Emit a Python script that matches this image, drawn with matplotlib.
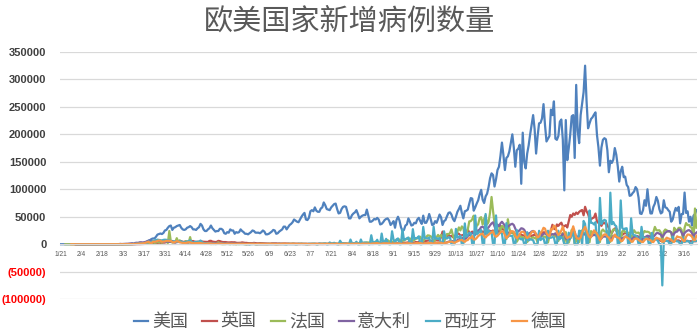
import matplotlib.pyplot as plt
import numpy as np
import pandas as pd

plt.rcParams['font.family'] = ['Noto Sans CJK SC', 'DejaVu Sans']

# daily new cases in thousands, one row per week (Tue..Mon) from 2020-01-21
# None = no cases reported yet
us = [
    0, 0, 0, 0, 0, 0, 0,
    0, 0, 0, 0, 0, 0, 0,
    0, 0, 0, 0, 0, 0, 0,
    0, 0, 0, 0, 0, 0, 0,
    0, 0, 0, 0, 0, 0, 0,
    0, 0, 0, 0, 0, 0, 0,
    0, 0, 0.1, 0.1, 0.1, 0.1, 0.2,
    0.3, 0.4, 0.5, 0.6, 0.8, 0.8, 1.7,
    2.5, 3.5, 4.8, 6.8, 7.5, 9.5, 10.5,
    10.5, 13.5, 17.5, 18.5, 19.5, 18.5, 20.5,
    25, 26, 30, 33, 34, 26, 30,
    31, 33, 34, 35, 30, 27, 26,
    27, 30, 31, 33, 31, 27, 27,
    26, 29, 31, 37, 34, 27, 24,
    24, 27, 29, 34, 29, 26, 23,
    24, 24, 28, 28, 26, 20, 19,
    22, 21, 27, 25, 25, 19, 22,
    21, 22, 27, 24, 22, 19, 19,
    18, 20, 22, 25, 24, 21, 21,
    21, 20, 22, 25, 23, 18, 18,
    19, 21, 23, 26, 25, 19, 20,
    23, 25, 27, 32, 32, 27, 31,
    35, 37, 40, 45, 43, 41, 40,
    45, 50, 54, 57, 45, 44, 48,
    60, 62, 60, 67, 61, 59, 59,
    65, 67, 76, 71, 64, 63, 62,
    67, 70, 73, 74, 64, 56, 57,
    64, 68, 69, 68, 58, 47, 47,
    53, 56, 58, 62, 55, 47, 50,
    52, 53, 53, 63, 52, 41, 41,
    43, 46, 45, 48, 45, 36, 37,
    40, 44, 46, 47, 43, 35, 38,
    42, 30, 44, 50, 43, 31, 24,
    26, 34, 36, 47, 41, 34, 35,
    39, 38, 45, 48, 42, 37, 52,
    39, 39, 45, 55, 46, 35, 36,
    42, 39, 46, 54, 49, 35, 42,
    44, 51, 57, 58, 54, 46, 42,
    50, 59, 64, 70, 57, 47, 60,
    61, 63, 74, 84, 83, 61, 67,
    74, 80, 91, 99, 81, 75, 87,
    92, 104, 120, 129, 126, 105, 118,
    135, 141, 161, 185, 162, 135, 157,
    160, 169, 185, 200, 176, 141, 171,
    174, 181, 110, 203, 150, 138, 165,
    180, 200, 217, 235, 210, 165, 196,
    220, 221, 229, 255, 217, 187, 192,
    197, 245, 235, 260, 192, 190, 197,
    223, 227, 190, 98, 226, 153, 175,
    200, 233, 235, 157, 290, 207, 184,
    235, 256, 277, 325, 260, 211, 220,
    228, 231, 236, 240, 199, 176, 143,
    176, 190, 193, 191, 171, 131, 152,
    148, 154, 175, 163, 142, 114, 133,
    141, 122, 123, 108, 104, 88, 89,
    93, 96, 104, 100, 85, 56, 55,
    62, 80, 70, 100, 73, 56, 56,
    68, 74, 86, 79, 64, 56, 58,
    80, 67, 66, 62, 59, 41, 45,
    57, 66, 61, 68, 38, 55, 55,
    94, 57, 60, 41, 50, 34, 52,
    55, 62,
]

uk = [
    None, None, None, None, None, None, None,
    None, None, None, 0, 0, 0, 0,
    0, 0, 0, 0, 0, 0, 0,
    0, 0, 0, 0, 0, 0, 0,
    0, 0, 0, 0, 0, 0, 0,
    0, 0, 0, 0, 0, 0, 0,
    0, 0, 0.1, 0.1, 0.1, 0.1, 0.1,
    0.1, 0.1, 0.2, 0.2, 0.2, 0.3, 0.3,
    0.4, 0.6, 0.6, 0.7, 1.0, 0.7, 1.0,
    1.4, 1.5, 2.1, 2.9, 2.5, 2.4, 3.0,
    3.0, 4.3, 4.6, 4.8, 4.5, 5.9, 3.8,
    3.6, 5.5, 4.3, 5.7, 5.2, 4.3, 4.3,
    5.2, 4.6, 4.6, 5.6, 5.5, 5.8, 4.7,
    4.3, 4.5, 4.6, 5.4, 4.9, 4.5, 4.3,
    3.9, 4.1, 6.0, 6.2, 4.8, 4.3, 4.0,
    4.4, 6.1, 5.6, 4.6, 3.9, 3.9, 3.9,
    3.4, 3.2, 3.4, 3.6, 3.4, 3.5, 2.7,
    2.4, 2.5, 2.6, 3.3, 2.9, 2.4, 2.4,
    2.0, 2.0, 1.9, 1.9, 2.4, 1.9, 1.6,
    1.6, 1.9, 1.8, 1.7, 1.6, 1.3, 1.2,
    1.4, 1.0, 1.5, 1.5, 1.4, 1.5, 1.1,
    1.3, 1.1, 1.2, 1.3, 1.3, 1.2, 1.0,
    0.9, 0.7, 1.1, 1.0, 0.9, 0.9, 0.8,
    0.7, 0.8, 0.6, 0.6, 0.8, 0.5, 0.4,
    0.6, 0.6, 0.5, 0.5, 0.8, 0.6, 0.6,
    0.5, 0.5, 0.6, 0.7, 0.8, 0.7, 0.6,
    0.4, 0.6, 0.8, 0.8, 0.8, 0.8, 0.7,
    0.8, 0.8, 0.9, 0.9, 0.7, 0.7, 0.9,
    0.7, 1.0, 1.0, 0.9, 0.8, 1.1, 1.1,
    1.2, 1.0, 1.4, 1.4, 1.1, 1.0, 0.7,
    1.2, 0.8, 1.2, 1.0, 1.3, 1.0, 0.9,
    1.2, 1.1, 1.5, 1.3, 1.1, 1.7, 1.4,
    1.3, 1.5, 1.9, 1.8, 1.8, 3.0, 3.0,
    2.5, 2.7, 2.9, 3.5, 3.5, 3.3, 2.6,
    3.1, 4.0, 3.4, 4.3, 4.4, 3.9, 4.4,
    4.9, 6.2, 6.6, 6.9, 6.0, 5.7, 4.0,
    7.1, 7.1, 6.9, 7.0, 12.9, 23.0, 12.6,
    14.5, 14.2, 17.5, 13.9, 15.2, 12.9, 14.0,
    17.2, 19.7, 19.0, 15.7, 16.2, 17.0, 18.8,
    21.3, 26.7, 21.2, 20.5, 23.0, 19.8, 20.9,
    22.9, 24.7, 23.1, 24.4, 21.9, 23.3, 19.0,
    20.0, 25.2, 24.1, 23.3, 25.0, 20.6, 21.4,
    20.4, 23.0, 33.5, 27.3, 26.9, 25.0, 21.4,
    21.4, 19.6, 22.9, 20.3, 19.9, 18.7, 15.5,
    11.3, 18.2, 17.6, 16.0, 15.9, 12.3, 12.2,
    13.4, 16.2, 14.9, 16.3, 17.3, 15.5, 14.7,
    12.3, 16.6, 21.0, 21.7, 21.5, 18.5, 20.3,
    18.5, 25.2, 35.4, 28.5, 27.1, 35.9, 33.4,
    36.8, 39.2, 32.7, 32.7, 34.7, 30.5, 41.4,
    53.1, 50.0, 55.9, 53.3, 57.7, 55.0, 58.8,
    60.9, 62.3, 52.6, 68.1, 59.9, 54.9, 46.2,
    45.5, 47.5, 48.7, 55.8, 41.4, 38.6, 37.5,
    33.4, 38.9, 37.9, 40.3, 33.6, 30.0, 22.2,
    20.1, 25.3, 28.7, 29.1, 23.4, 21.1, 18.6,
    16.8, 19.2, 20.6, 19.1, 18.3, 15.9, 14.1,
    12.4, 13.0, 13.5, 15.1, 13.3, 11.0, 9.8,
    10.6, 12.7, 12.1, 12.0, 10.4, 9.8, 10.6,
    8.5, 8.5, 10.0, 9.3, 7.4, 6.0, 5.5,
    6.4, 5.8, 6.6, 6.0, 5.2, 5.7, 4.7,
    5.9, 5.9, 6.8, 7.0, 5.5, 4.6, 5.1,
    5.3, 5.8, 6.3, 4.8, 5.6, 5.3, 5.3,
    5.4, 5.6,
]

france = [
    None, None, None, 0, 0, 0, 0,
    0, 0, 0, 0, 0, 0, 0,
    0, 0, 0, 0, 0, 0, 0,
    0, 0, 0, 0, 0, 0, 0,
    0, 0, 0, 0, 0, 0, 0,
    0, 0, 0, 0, 0.1, 0.1, 0.1,
    0.1, 0.1, 0.1, 0.2, 0.3, 0.2, 0.3,
    0.4, 0.5, 0.6, 0.8, 0.8, 0.9, 1.2,
    1.1, 1.4, 1.8, 1.6, 1.8, 1.6, 3.8,
    2.4, 2.9, 3.9, 3.4, 4.6, 2.6, 4.4,
    7.6, 4.9, 2.1, 24.0, 5.2, 2.9, 3.9,
    3.8, 11.0, 4.3, 7.1, 4.8, 2.9, 2.7,
    5.5, 4.6, 2.6, 13.0, 1.1, 1.5, 2.4,
    2.7, 1.4, 1.5, 1.7, 1.6, 1.0, 0.5,
    1.6, 1.0, 0.8, 0.3, 0.5, 0.4, 0.6,
    1.0, 3.6, 0.6, 0.3, 0.1, 0.3, 0.5,
    0.8, 0.5, 0.1, 0.8, 0.3, 0.5, 0.3,
    0.5, 0.2, 0.8, 0.7, 0.3, 0.1, 0.2,
    0.6, 0.8, 0.5, 0.5, 0.4, 0.3, 0.1,
    0.6, 0.8, 0.6, 0.6, 0.5, 0.3, 0.3,
    0.8, 0.5, 0.5, 0.5, 0.4, 0.1, 0.3,
    0.5, 0.4, 0.5, 0.5, 0.4, 0.2, 0.5,
    0.6, 0.7, 0.9, 0.8, 0.3, 0.4, 0.6,
    0.5, 0.8, 0.5, 0.6, 0.5, 0.3, 0.5,
    0.5, 0.6, 0.7, 0.8, 0.3, 0.2, 0.6,
    0.7, 0.8, 0.9, 0.9, 0.7, 0.4, 0.5,
    0.8, 1.0, 1.1, 1.1, 0.9, 0.5, 0.8,
    1.0, 1.4, 1.3, 1.3, 1.0, 0.6, 0.9,
    1.0, 1.6, 1.7, 2.3, 2.0, 0.7, 1.4,
    1.4, 2.5, 2.7, 2.9, 3.3, 1.3, 1.8,
    2.2, 3.8, 4.7, 4.6, 4.0, 1.6, 3.0,
    3.3, 5.4, 6.1, 7.4, 5.5, 1.9, 4.2,
    4.9, 7.0, 7.2, 8.9, 8.5, 4.2, 6.5,
    6.5, 8.6, 9.8, 9.4, 10.6, 5.9, 6.2,
    7.8, 9.8, 10.6, 13.2, 13.5, 7.2, 5.3,
    10.0, 13.1, 16.1, 15.8, 14.4, 11.1, 4.1,
    8.1, 12.8, 16.9, 12.1, 17.0, 12.6, 5.1,
    10.5, 18.7, 18.1, 20.3, 26.9, 16.1, 8.5,
    12.9, 22.6, 30.6, 25.1, 32.4, 29.8, 13.2,
    20.5, 26.7, 41.6, 42.0, 45.4, 52.0, 26.8,
    33.4, 36.4, 47.6, 49.2, 35.6, 46.3, 52.5,
    36.3, 40.6, 58.0, 86.0, 60.5, 38.6, 20.1,
    35.9, 33.2, 25.1, 33.2, 32.1, 27.2, 9.4,
    45.5, 28.4, 21.2, 22.9, 17.9, 13.2, 4.5,
    9.2, 14.1, 13.6, 12.5, 11.0, 9.8, 4.0,
    8.0, 10.0, 11.2, 12.9, 11.0, 11.0, 3.4,
    13.7, 14.6, 16.3, 13.4, 13.9, 11.5, 3.1,
    14.1, 17.6, 18.3, 15.7, 14.7, 12.7, 5.9,
    14.0, 15.7, 20.3, 0.0, 22.0, 3.1, 3.1,
    11.4, 26.5, 19.9, 0.0, 12.5, 3.5, 4.0,
    20.5, 25.4, 19.8, 20.2, 21.7, 15.9, 3.7,
    23.9, 21.3, 21.0, 21.4, 20.2, 16.6, 4.0,
    23.6, 26.8, 23.3, 22.9, 23.9, 18.4, 4.3,
    22.1, 26.9, 26.8, 23.8, 24.9, 19.2, 4.3,
    23.3, 25.4, 22.1, 22.5, 20.7, 20.5, 4.3,
    18.9, 25.4, 21.1, 20.7, 21.2, 17.9, 4.3,
    18.9, 24.0, 22.5, 22.8, 21.8, 19.5, 5.1,
    22.0, 31.5, 25.4, 25.2, 25.4, 21.2, 4.4,
    23.2, 26.8, 25.3, 23.0, 23.3, 21.8, 4.3,
    29.9, 26.0, 25.4, 29.8, 29.8, 26.3, 5.3,
    29.9, 38.5, 34.9, 35.1, 30.6, 30.2, 5.3,
    65.0, 30.0,
]

italy = [
    None, None, None, None, None, None, None,
    None, None, None, 0, 0, 0, 0,
    0, 0, 0, 0, 0, 0, 0,
    0, 0, 0, 0, 0, 0, 0,
    0, 0, 0, 0, 0.1, 0.1, 0.1,
    0.1, 0.1, 0.2, 0.2, 0.2, 0.6, 0.3,
    0.5, 0.6, 0.8, 0.8, 1.2, 1.5, 1.8,
    1.0, 2.3, 2.7, 2.5, 3.5, 3.6, 3.2,
    3.5, 4.2, 5.3, 6.0, 6.6, 5.6, 4.8,
    5.2, 5.2, 6.2, 6.0, 6.0, 5.2, 4.1,
    4.1, 4.8, 4.7, 4.6, 4.8, 4.3, 3.6,
    3.0, 3.8, 4.2, 4.0, 4.7, 4.1, 3.2,
    3.0, 2.7, 3.8, 3.5, 3.0, 3.0, 2.3,
    2.7, 3.4, 2.6, 3.0, 2.4, 2.3, 1.7,
    2.1, 2.1, 1.9, 2.0, 1.9, 1.4, 1.2,
    1.1, 1.4, 1.4, 1.3, 1.1, 0.8, 0.7,
    1.4, 0.9, 1.0, 0.8, 0.9, 0.7, 0.5,
    0.8, 0.7, 0.6, 0.7, 0.7, 0.5, 0.3,
    0.4, 0.6, 0.6, 0.5, 0.4, 0.4, 0.2,
    0.3, 0.3, 0.5, 0.3, 0.4, 0.2, 0.3,
    0.3, 0.2, 0.4, 0.2, 0.4, 0.3, 0.3,
    0.2, 0.3, 0.3, 0.3, 0.3, 0.2, 0.2,
    0.1, 0.2, 0.3, 0.3, 0.2, 0.2, 0.1,
    0.1, 0.2, 0.2, 0.2, 0.2, 0.2, 0.2,
    0.1, 0.2, 0.2, 0.3, 0.2, 0.2, 0.2,
    0.1, 0.2, 0.2, 0.2, 0.3, 0.2, 0.1,
    0.1, 0.3, 0.3, 0.3, 0.3, 0.3, 0.2,
    0.2, 0.3, 0.3, 0.4, 0.4, 0.3, 0.2,
    0.2, 0.4, 0.4, 0.6, 0.4, 0.5, 0.3,
    0.4, 0.5, 0.5, 0.6, 0.6, 0.5, 0.3,
    0.4, 0.6, 0.9, 1.0, 1.1, 1.2, 1.0,
    0.9, 1.4, 1.4, 1.5, 1.4, 1.4, 1.0,
    1.0, 1.3, 1.4, 1.7, 1.7, 1.3, 1.1,
    1.4, 1.4, 1.6, 1.6, 1.5, 1.5, 1.0,
    1.2, 1.5, 1.6, 1.9, 1.6, 1.6, 1.4,
    1.4, 1.6, 1.8, 1.9, 1.9, 1.8, 1.5,
    1.7, 1.9, 2.6, 2.5, 2.8, 2.6, 2.3,
    2.7, 3.7, 4.5, 5.4, 5.7, 5.5, 4.6,
    5.9, 7.3, 8.8, 10.0, 10.9, 11.7, 9.3,
    11.0, 15.2, 16.1, 19.1, 19.6, 21.3, 17.0,
    22.0, 24.9, 26.8, 31.1, 31.8, 29.9, 22.3,
    28.2, 30.6, 34.5, 37.8, 39.8, 32.6, 25.3,
    35.1, 32.9, 37.9, 40.9, 37.3, 33.9, 27.4,
    32.2, 34.3, 36.2, 37.2, 34.8, 28.3, 22.9,
    23.2, 25.9, 29.0, 28.4, 26.3, 20.6, 16.4,
    19.4, 20.7, 23.2, 24.1, 21.1, 18.9, 13.7,
    12.8, 12.7, 16.9, 18.7, 19.9, 17.9, 12.0,
    14.8, 17.6, 18.2, 17.9, 19.9, 15.1, 10.9,
    13.3, 14.5, 19.0, 18.9, 10.4, 9.0, 8.6,
    11.2, 16.2, 23.5, 22.2, 11.8, 14.2, 10.8,
    15.4, 20.3, 18.0, 17.5, 19.9, 18.6, 12.5,
    14.2, 15.8, 17.2, 16.1, 16.3, 12.5, 8.8,
    10.5, 13.6, 14.1, 13.6, 13.3, 11.6, 8.6,
    10.6, 15.2, 14.4, 13.6, 12.7, 11.3, 9.7,
    10.6, 12.1, 13.7, 14.2, 13.4, 11.6, 7.9,
    10.6, 12.9, 15.1, 13.9, 13.5, 11.1, 7.4,
    10.4, 12.1, 13.8, 15.5, 14.9, 13.5, 9.6,
    13.3, 16.4, 19.9, 20.5, 18.9, 17.5, 13.1,
    17.1, 20.9, 22.9, 24.0, 23.6, 21.0, 13.9,
    19.7, 22.4, 22.9, 26.8, 26.1, 21.3, 15.3,
    20.4, 23.1, 24.9, 25.7, 23.8, 20.2, 13.8,
    18.8, 21.3,
]

spain = [
    None, None, None, None, None, None, None,
    None, None, None, None, 0, 0, 0,
    0, 0, 0, 0, 0, 0, 0,
    0, 0, 0, 0, 0, 0, 0,
    0, 0, 0, 0, 0, 0, 0,
    0, 0, 0, 0, 0, 0.1, 0,
    0, 0.1, 0.1, 0.1, 0.1, 0.2, 0.4,
    0.6, 0.4, 1.3, 1.0, 1.5, 2.0, 1.4,
    1.9, 2.5, 2.8, 5.0, 3.7, 4.5, 6.0,
    6.9, 7.5, 8.3, 7.9, 7.5, 6.9, 7.9,
    8.2, 8.0, 7.1, 7.0, 6.2, 4.3, 5.5,
    5.0, 4.8, 4.2, 4.8, 4.8, 3.8, 3.3,
    3.1, 5.1, 5.2, 7.3, 4.5, 1.5, 4.0,
    4.2, 4.6, 4.6, 6.7, 4.0, 2.2, 1.8,
    1.4, 2.1, 1.5, 1.4, 0.6, 0.9, 0.4,
    0.5, 1.0, 1.1, 1.2, 1.1, 0.5, 0.5,
    0.6, 0.4, 0.5, 0.6, 0.5, 0.4, 0.3,
    0.3, 0.4, 0.5, 0.5, 0.5, 0.3, 0.1,
    0.2, -0.4, 0.3, 0.3, 0.7, 0.1, 0.1,
    0.2, 0.3, 0.3, 0.2, 0.3, 0.3, 0.1,
    0.3, 0.2, 0.3, 0.5, 0.3, 0.4, 0.3,
    0.4, 0.4, 0.6, 0.3, 0, 0, 0.7,
    0.3, 0.3, 0.5, 0.3, 0, 0, 0.7,
    0.4, 0.6, 0.4, 0.5, 0, 0, 0.9,
    0.6, 0.6, 0.7, 0.8, 0, 0, 1.4,
    0.9, 0.7, 1.2, 1.4, 0, 0, 3.2,
    1.4, 1.4, 2.6, 0.9, 0, 0, 6.4,
    1.9, 2.0, 1.3, 1.5, 0, 0, 8.5,
    1.7, 2.0, 1.7, 4.5, 0, 0, 8.6,
    1.5, 3.0, 2.9, 2.9, 0, 0, 16.3,
    3.2, 3.7, 3.6, 8.1, 0, 0, 19.4,
    3.6, 3.6, 9.8, 3.8, 0, 0, 23.6,
    8.1, 3.1, 8.9, 10.5, 0, 0, 26.6,
    8.0, 9.0, 10.8, 12.2, 0, 0, 27.4,
    9.4, 11.2, 11.3, 14.4, 0, 0, 31.4,
    10.8, 10.7, 10.7, 12.3, 0, 0, 31.8,
    9.9, 11.0, 9.4, 11.3, 0, 0, 23.5,
    11.0, 10.5, 12.4, 12.8, 0, 0, 0,
    27.9, 11.9, 13.3, 15.2, 0, 0, 37.9,
    13.9, 17.0, 21.0, 19.9, 0, 0, 52.2,
    18.4, 19.8, 23.6, 25.6, 0, 0, 55.0,
    18.7, 25.0, 22.0, 22.0, 0, 0, 52.4,
    17.0, 19.1, 21.8, 19.5, 0, 0, 38.3,
    13.2, 16.0, 15.2, 15.1, 0, 0, 25.9,
    12.2, 10.6, 8.7, 10.3, 0, 0, 21.9,
    7.0, 8.7, 8.4, 7.3, 0, 0, 0,
    24.4, 7.5, 10.3, 10.7, 0, 0, 24.5,
    12.0, 11.8, 13.0, 12.2, 0, 0, 24.5,
    9.2, 12.9, 10.4, 0, 0, 0, 21.0,
    10.5, 17.7, 23.7, 0, 0, 0, 24.7,
    23.7, 0, 42.4, 36.9, 0, 0, 61.4,
    38.9, 38.7, 35.9, 40.2, 0, 0, 84.3,
    36.7, 41.6, 44.4, 42.9, 0, 0, 93.8,
    36.4, 40.3, 34.9, 32.6, 0, 0, 79.7,
    29.6, 27.1, 28.6, 29.1, 0, 0, 47.1,
    18.7, 16.4, 15.9, 13.4, 0, 0, 31.6,
    13.2, 11.4, 11.5, 10.9, 0, 0, 20.6,
    8.6, 9.0, 8.7, 6.3, 0, 0, -75.0,
    6.1, 6.4, 6.0, 5.3, 0, 0, 14.0,
    6.6, 6.6, 5.1, 4.9, 0, 0, 12.3,
    4.1, 5.3, 5.4, 5.4, 0, 0, 13.0,
    5.6, 6.2,
]

germany = [
    None, None, None, None, None, None, None,
    0, 0, 0, 0, 0, 0, 0,
    0, 0, 0, 0, 0, 0, 0,
    0, 0, 0, 0, 0, 0, 0,
    0, 0, 0, 0, 0, 0, 0,
    0, 0, 0, 0, 0.1, 0.1, 0,
    0, 0.1, 0.1, 0.3, 0.2, 0.3, 0.1,
    0.3, 0.7, 0.8, 0.9, 1.3, 1.4, 1.7,
    1.8, 2.7, 3.5, 4.5, 2.7, 1.9, 4.7,
    4.4, 4.9, 6.0, 6.8, 6.3, 4.4, 4.8,
    4.9, 6.2, 6.2, 6.1, 5.9, 4.0, 3.3,
    4.3, 5.6, 4.9, 3.6, 2.8, 2.5, 2.1,
    2.1, 3.0, 3.6, 3.4, 2.5, 1.9, 1.8,
    1.8, 2.2, 2.4, 2.3, 1.5, 1.2, 1.0,
    1.2, 1.6, 1.5, 1.4, 0.9, 0.7, 0.5,
    0.7, 1.2, 1.3, 1.2, 0.7, 0.6, 0.4,
    0.9, 0.8, 0.9, 0.6, 0.6, 0.5, 0.3,
    0.5, 0.8, 0.5, 0.6, 0.6, 0.4, 0.3,
    0.4, 0.4, 0.7, 0.5, 0.7, 0.3, 0.2,
    0.3, 0.3, 0.5, 0.5, 0.4, 0.3, 0.2,
    0.3, 0.6, 0.5, 0.4, 0.3, 0.2, 0.2,
    0.4, 0.3, 0.6, 0.8, 0.6, 0.6, 0.6,
    0.5, 0.6, 0.6, 0.5, 0.5, 0.3, 0.3,
    0.5, 0.5, 0.5, 0.4, 0.4, 0.3, 0.2,
    0.4, 0.4, 0.4, 0.4, 0.4, 0.2, 0.2,
    0.4, 0.5, 0.5, 0.6, 0.4, 0.2, 0.2,
    0.5, 0.6, 0.6, 0.8, 0.7, 0.3, 0.3,
    0.6, 0.7, 0.9, 0.9, 0.9, 0.4, 0.5,
    0.9, 0.7, 1.0, 1.1, 0.9, 0.4, 0.4,
    1.2, 1.2, 1.4, 1.4, 1.0, 0.6, 0.6,
    1.4, 1.5, 1.7, 2.0, 1.4, 0.7, 0.7,
    1.6, 1.6, 1.5, 1.6, 1.5, 0.8, 0.9,
    1.2, 1.3, 1.5, 1.4, 1.4, 0.8, 0.8,
    1.5, 1.2, 1.9, 1.6, 1.6, 1.0, 0.8,
    1.4, 1.9, 2.2, 1.9, 2.3, 1.3, 0.9,
    1.8, 1.7, 2.1, 2.2, 2.5, 1.4, 1.2,
    2.1, 2.5, 2.7, 2.6, 2.6, 1.4, 1.4,
    2.8, 2.8, 4.1, 4.5, 4.7, 3.5, 2.5,
    4.1, 5.1, 6.6, 7.3, 7.8, 5.6, 4.3,
    6.9, 7.6, 11.3, 11.2, 14.7, 8.7, 8.7,
    11.4, 14.9, 16.8, 18.7, 19.1, 14.2, 12.1,
    15.4, 17.2, 19.9, 21.5, 23.4, 16.0, 13.4,
    15.3, 18.5, 21.9, 23.5, 22.5, 16.9, 10.8,
    14.4, 17.6, 23.6, 23.6, 22.9, 15.7, 10.9,
    13.6, 18.6, 22.3, 22.8, 21.7, 14.6, 11.2,
    13.6, 17.3, 22.0, 23.4, 23.3, 17.8, 12.3,
    14.1, 20.8, 23.7, 29.9, 28.4, 20.2, 16.4,
    14.4, 27.7, 26.9, 33.8, 31.3, 22.8, 16.6,
    19.5, 24.7, 32.2, 22.7, 14.5, 10.9, 13.5,
    12.9, 22.5, 32.6, 22.9, 12.7, 10.3, 9.8,
    12.0, 21.2, 26.4, 31.8, 24.7, 16.9, 12.5,
    12.8, 19.6, 25.2, 22.4, 18.7, 13.9, 7.1,
    11.4, 15.9, 17.9, 17.9, 14.0, 12.3, 6.4,
    6.4, 13.2, 17.6, 14.0, 12.2, 11.2, 6.1,
    5.9, 9.7, 14.2, 12.9, 11.0, 9.2, 5.0,
    4.5, 9.0, 10.2, 10.2, 8.1, 6.1, 4.4,
    3.9, 7.0, 10.2, 9.1, 8.3, 7.7, 4.4,
    3.9, 8.0, 11.9, 10.6, 9.8, 8.0, 4.7,
    4.7, 9.0, 11.9, 10.6, 9.6, 8.1, 5.0,
    4.3, 9.2, 14.4, 12.8, 12.7, 10.8, 6.6,
    5.5, 13.4, 17.5, 17.5, 16.0, 13.7, 7.7,
    7.5, 15.8,
]

countries = ["美国", "英国", "法国", "意大利", "西班牙", "德国"]
series = [us, uk, france, italy, spain, germany]
colors = ["#4F81BD", "#C0504D", "#9BBB59", "#8064A2", "#4BACC6", "#F79646"]

n_days = len(us)
days = pd.date_range("2020-01-21", periods=n_days, freq="D")
day_labels = [f"{d.month}/{d.day}" for d in days]
x = np.arange(n_days)

fig = plt.figure(figsize=(7, 3.35), dpi=100)
ax = fig.add_axes([0.086, 0.107, 0.91, 0.738])

for name, vals, c in zip(countries, series, colors):
    y = np.array(vals, dtype=float) * 1000
    ax.plot(x, y, color=c, lw=1.6, label=name, solid_joinstyle="round")

ax.set_xlim(-0.5, n_days - 0.5)
ax.set_ylim(-100000, 350000)

# category axis sits on the zero line (set before styling the ticks,
# moving the spine resets them)
ax.spines["bottom"].set_position(("data", 0))
ax.spines["bottom"].set_color("#d9d9d9")
for s in ["top", "right", "left"]:
    ax.spines[s].set_visible(False)

ax.set_xticks(x[::14])
ax.set_xticklabels(day_labels[::14], fontsize=4.8, color="#595959",
                   family="Liberation Sans")
ax.tick_params(axis="x", length=0, pad=5)

# y axis: negatives shown in red parentheses
yt = np.arange(-100000, 350001, 50000)
ax.set_yticks(yt)
ax.set_yticklabels([f"({-v})" if v < 0 else f"{v}" for v in yt],
                   family="Liberation Sans", fontweight="bold", fontsize=8)
for lab, v in zip(ax.get_yticklabels(), yt):
    lab.set_color("red" if v < 0 else "#404040")
ax.tick_params(axis="y", length=0, pad=10)

ax.yaxis.grid(True, color="#d9d9d9", lw=0.9)
ax.set_axisbelow(True)

fig.text(0.5, 1 - 22 / 335, "欧美国家新增病例数量", ha="center", va="center",
         fontsize=21, color="#595959", fontweight="light")

fig.legend(loc="center", bbox_to_anchor=(0.5, 0.039), ncol=6, frameon=False,
           labelcolor="#595959", handlelength=0.8,
           handletextpad=0.2, columnspacing=0.8,
           prop={"family": "Noto Sans CJK SC", "size": 13, "weight": "light"})

fig.savefig("out.png", dpi=100)
